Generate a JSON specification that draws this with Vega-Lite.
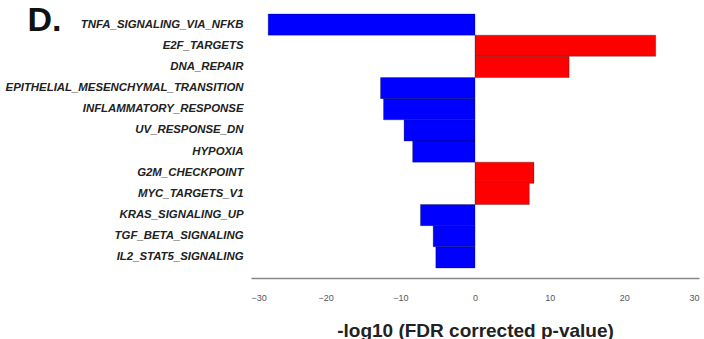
{
  "$schema": "https://vega.github.io/schema/vega-lite/v6.json",
  "autosize": "none",
  "width": 448,
  "height": 254,
  "padding": {"left": 251, "top": 14, "right": 5, "bottom": 71},
  "background": "white",
  "config": {"view": {"stroke": null}},
  "data": {
    "values": [
      {"pathway": "TNFA_SIGNALING_VIA_NFKB", "value": -27.7, "direction": "down"},
      {"pathway": "E2F_TARGETS", "value": 24.2, "direction": "up"},
      {"pathway": "DNA_REPAIR", "value": 12.6, "direction": "up"},
      {"pathway": "EPITHELIAL_MESENCHYMAL_TRANSITION", "value": -12.65, "direction": "down"},
      {"pathway": "INFLAMMATORY_RESPONSE", "value": -12.25, "direction": "down"},
      {"pathway": "UV_RESPONSE_DN", "value": -9.5, "direction": "down"},
      {"pathway": "HYPOXIA", "value": -8.35, "direction": "down"},
      {"pathway": "G2M_CHECKPOINT", "value": 7.9, "direction": "up"},
      {"pathway": "MYC_TARGETS_V1", "value": 7.27, "direction": "up"},
      {"pathway": "KRAS_SIGNALING_UP", "value": -7.3, "direction": "down"},
      {"pathway": "TGF_BETA_SIGNALING", "value": -5.6, "direction": "down"},
      {"pathway": "IL2_STAT5_SIGNALING", "value": -5.25, "direction": "down"}
    ]
  },
  "mark": {"type": "bar", "stroke": "#000", "strokeWidth": 0.6, "strokeOpacity": 0.45},
  "encoding": {
    "y": {
      "field": "pathway",
      "type": "nominal",
      "sort": null,
      "scale": {"paddingInner": 0, "paddingOuter": 0},
      "axis": {
        "title": "D.",
        "titleAngle": 0,
        "titleX": -224,
        "titleY": 16,
        "titleAlign": "left",
        "titleBaseline": "alphabetic",
        "titleFont": "Liberation Sans",
        "titleFontSize": 34,
        "titleFontWeight": "bold",
        "titleColor": "#111",
        "domain": false,
        "ticks": false,
        "labelPadding": 8,
        "labelLimit": 400,
        "labelFont": "Liberation Sans",
        "labelFontStyle": "italic",
        "labelFontWeight": "bold",
        "labelFontSize": 11.4,
        "labelColor": "#222"
      }
    },
    "x": {
      "field": "value",
      "type": "quantitative",
      "scale": {"domain": [-30, 30], "nice": false},
      "axis": {
        "values": [-30, -20, -10, 0, 10, 20, 30],
        "offset": 10,
        "grid": false,
        "ticks": false,
        "domainColor": "#888",
        "domainWidth": 1.5,
        "labelPadding": 15,
        "labelFont": "Liberation Sans",
        "labelFontSize": 9,
        "labelColor": "#555",
        "title": "-log10 (FDR corrected p-value)",
        "titleFont": "Liberation Sans",
        "titleFontSize": 19,
        "titleFontWeight": "bold",
        "titleColor": "#222",
        "titleBaseline": "alphabetic",
        "titleY": 58
      }
    },
    "color": {
      "field": "direction",
      "type": "nominal",
      "scale": {"domain": ["down", "up"], "range": ["#0000ff", "#ff0000"]},
      "legend": null
    }
  }
}
